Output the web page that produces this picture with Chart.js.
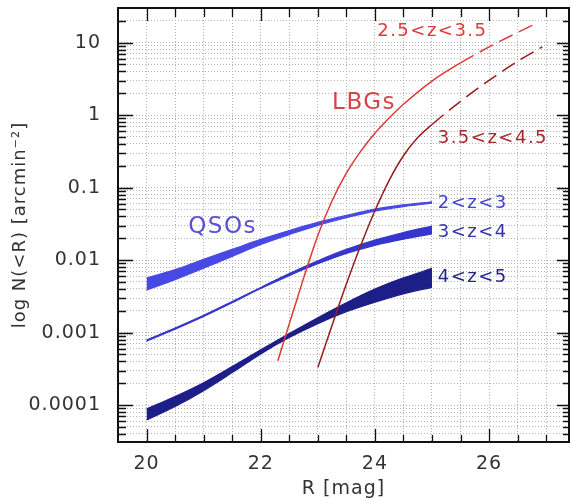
<!DOCTYPE html>
<html>
<head>
<meta charset="utf-8">
<script src="https://cdn.jsdelivr.net/npm/chart.js@4.4.0/dist/chart.umd.min.js"></script>
<style>
  html, body { margin: 0; padding: 0; background: #fff; }
  canvas { display: block; }
</style>
</head>
<body>
<canvas id="countsChart" width="571" height="504"></canvas>
<script>
// QSO curves, sampled every 0.5 mag
const rMag = [20, 20.5, 21, 21.5, 22, 22.5, 23, 23.5, 24, 24.5, 25];

const qso23Upper = [0.00566, 0.0074, 0.01028, 0.01406, 0.01928, 0.02559, 0.0331, 0.0413, 0.0506, 0.0578, 0.0638];
const qso23Lower = [0.00386, 0.00538, 0.00773, 0.01127, 0.01641, 0.02249, 0.0302, 0.0384, 0.0474, 0.0547, 0.0610];

const qso34Upper = [7.91e-4, 1.156e-3, 1.73e-3, 2.68e-3, 4.20e-3, 6.52e-3, 9.79e-3, 0.01406, 0.01888, 0.02404, 0.0295];
const qso34Lower = [7.62e-4, 1.114e-3, 1.667e-3, 2.58e-3, 4.05e-3, 6.11e-3, 8.89e-3, 0.01236, 0.0160, 0.01945, 0.0229];

const qso45Upper = [8.83e-5, 1.315e-4, 2.04e-4, 3.40e-4, 5.79e-4, 9.73e-4, 1.607e-3, 2.58e-3, 3.98e-3, 5.69e-3, 7.69e-3];
const qso45Lower = [6.22e-5, 9.57e-5, 1.585e-4, 2.81e-4, 5.09e-4, 8.55e-4, 1.33e-3, 1.94e-3, 2.63e-3, 3.43e-3, 4.21e-3];

// LBG curves
const lbg3Mag = [22.3, 22.5, 22.75, 23.0, 23.25, 23.5, 23.75, 24.0, 24.25, 24.5, 25.0, 25.5, 26.0, 26.5, 26.84];
const lbg3Counts = [4.1e-4, 1.32e-3, 5.6e-3, 0.0219, 0.066, 0.158, 0.316, 0.562, 0.912, 1.41, 2.95, 5.25, 8.71, 13.8, 18.6];

const lbg4Mag = [23.0, 23.25, 23.5, 23.75, 24.0, 24.25, 24.5, 24.75, 25.0, 25.5, 26.0, 26.5, 26.93];
const lbg4Counts = [3.3e-4, 1.26e-3, 4.68e-3, 0.0158, 0.0479, 0.126, 0.275, 0.49, 0.741, 1.55, 3.02, 5.5, 8.7];

// axes
const xTicks = [20, 20.5, 21, 21.5, 22, 22.5, 23, 23.5, 24, 24.5, 25, 25.5, 26, 26.5, 27];
const xLabelled = [20, 22, 24, 26];
const yDecades = [0.0001, 0.001, 0.01, 0.1, 1, 10];
const yDecadeLabels = ["0.0001", "0.001", "0.01", "0.1", "1", "10"];

const yMin = 3.1e-5, yMax = 30;
const yTicks = [];
[1e-5, 1e-4, 1e-3, 1e-2, 1e-1, 1, 10].forEach((d) => {
  for (let k = 1; k <= 9; k++) {
    const v = +(d * k).toPrecision(3);
    if (v > yMin && v < yMax) yTicks.push(v);
  }
});

const isDecade = (v) => yDecades.some((d) => Math.abs(d - v) / d < 1e-6);

function pts(xs, ys) {
  return xs.map((x, i) => ({ x, y: ys[i] }));
}

const seriesLabels = [
  { text: "2.5<z<3.5", r: 24.04, n: 14.4, color: "#de3c3c", size: 18 },
  { text: "LBGs", r: 23.25, n: 1.46, color: "#d64545", size: 23 },
  { text: "3.5<z<4.5", r: 25.1, n: 0.48, color: "#a52b2b", size: 18 },
  { text: "QSOs", r: 20.73, n: 0.0283, color: "#5a50d6", size: 23 },
  { text: "2<z<3", r: 25.1, n: 0.0608, color: "#4444cc", size: 18 },
  { text: "3<z<4", r: 25.1, n: 0.0242, color: "#3434a8", size: 18 },
  { text: "4<z<5", r: 25.1, n: 0.00578, color: "#25258a", size: 18 },
];

const frameAndLabels = {
  id: "frameAndLabels",
  beforeDraw(chart) {
    chart.ctx.letterSpacing = "1px";
  },
  afterDraw(chart) {
    const { ctx, chartArea: a, scales } = chart;
    const x = scales.x, y = scales.y;
    ctx.save();
    ctx.strokeStyle = "#111";
    ctx.lineWidth = 1.3;
    ctx.beginPath();
    xTicks.forEach((v) => {
      const px = Math.round(x.getPixelForValue(v)) + 0.5;
      const major = xLabelled.includes(v);
      ctx.moveTo(px, a.bottom);
      ctx.lineTo(px, a.bottom - (major ? 13 : 7));
      ctx.moveTo(px, a.top);
      ctx.lineTo(px, a.top + (major ? 13 : 9));
    });
    yTicks.forEach((v) => {
      const py = Math.round(y.getPixelForValue(v)) + 0.5;
      const major = isDecade(v);
      ctx.moveTo(a.left, py);
      ctx.lineTo(a.left + (major ? 15 : 8), py);
      ctx.moveTo(a.right, py);
      ctx.lineTo(a.right - (major ? 12 : 6), py);
    });
    ctx.stroke();
    ctx.lineWidth = 2;
    ctx.strokeRect(a.left, a.top, a.right - a.left, a.bottom - a.top);

    ctx.textAlign = "left";
    ctx.textBaseline = "middle";
    ctx.letterSpacing = "1.5px";
    seriesLabels.forEach((l) => {
      ctx.fillStyle = l.color;
      ctx.font = l.size + "px 'DejaVu Sans'";
      ctx.fillText(l.text, x.getPixelForValue(l.r), y.getPixelForValue(l.n));
    });
    ctx.restore();
  },
};

const lbgDash = (from) => (c) => (c.p0.parsed.x >= from ? [15, 7] : undefined);

const line = { pointRadius: 0, borderWidth: 1.2, cubicInterpolationMode: "monotone" };

new Chart(document.getElementById("countsChart"), {
  type: "line",
  data: {
    datasets: [
      { ...line, data: pts(lbg3Mag, lbg3Counts), borderColor: "#e03838", borderWidth: 1.5,
        segment: { borderDash: lbgDash(25.5) }, fill: false },
      { ...line, data: pts(lbg4Mag, lbg4Counts), borderColor: "#981c1c", borderWidth: 1.5,
        segment: { borderDash: lbgDash(25.0) }, fill: false },
      { ...line, data: pts(rMag, qso23Upper), borderColor: "#4848e4", backgroundColor: "#4848e4", fill: "+1" },
      { ...line, data: pts(rMag, qso23Lower), borderColor: "#4848e4", fill: false },
      { ...line, data: pts(rMag, qso34Upper), borderColor: "#3636cc", backgroundColor: "#3636cc", fill: "+1" },
      { ...line, data: pts(rMag, qso34Lower), borderColor: "#3636cc", fill: false },
      { ...line, data: pts(rMag, qso45Upper), borderColor: "#1e1e88", backgroundColor: "#1e1e88", fill: "+1" },
      { ...line, data: pts(rMag, qso45Lower), borderColor: "#1e1e88", fill: false },
    ],
  },
  options: {
    responsive: false,
    animation: false,
    layout: { padding: { top: 8, right: 2, left: 0, bottom: 0 } },
    plugins: { legend: { display: false }, tooltip: { enabled: false } },
    scales: {
      x: {
        type: "linear",
        min: 19.5,
        max: 27.4,
        afterBuildTicks: (scale) => { scale.ticks = xTicks.map((v) => ({ value: v })); },
        afterFit: (scale) => {
          scale.height = 62;
          scale.paddingLeft = 0;
          scale.paddingRight = 0;
        },
        grid: { color: "#b4b4b4", lineWidth: 1, drawTicks: false },
        border: { display: false, dash: [1, 2] },
        ticks: {
          autoSkip: false,
          maxRotation: 0,
          padding: 11,
          color: "#333",
          font: { family: "'DejaVu Sans'", size: 19 },
          callback: (v) => (xLabelled.includes(v) ? String(v) : ""),
        },
        title: {
          display: true,
          text: "R [mag]",
          color: "#333",
          font: { family: "'DejaVu Sans'", size: 19 },
          padding: { top: 0, bottom: 4 },
        },
      },
      y: {
        type: "logarithmic",
        min: yMin,
        max: yMax,
        afterBuildTicks: (scale) => { scale.ticks = yTicks.map((v) => ({ value: v })); },
        afterFit: (scale) => {
          scale.width = 118;
          scale.paddingTop = 0;
          scale.paddingBottom = 0;
        },
        grid: { color: "#b4b4b4", lineWidth: 1, drawTicks: false },
        border: { display: false, dash: [1, 2] },
        ticks: {
          autoSkip: false,
          padding: 17,
          color: "#333",
          font: { family: "'DejaVu Sans'", size: 19 },
          callback: (v) => {
            const i = yDecades.findIndex((d) => Math.abs(d - v) / d < 1e-6);
            return i >= 0 ? yDecadeLabels[i] : "";
          },
        },
        title: {
          display: true,
          text: "log N(<R) [arcmin⁻²]",
          color: "#333",
          font: { family: "'DejaVu Sans'", size: 18 },
          padding: { top: 10, bottom: 0 },
        },
      },
    },
  },
  plugins: [frameAndLabels],
});
</script>
</body>
</html>
